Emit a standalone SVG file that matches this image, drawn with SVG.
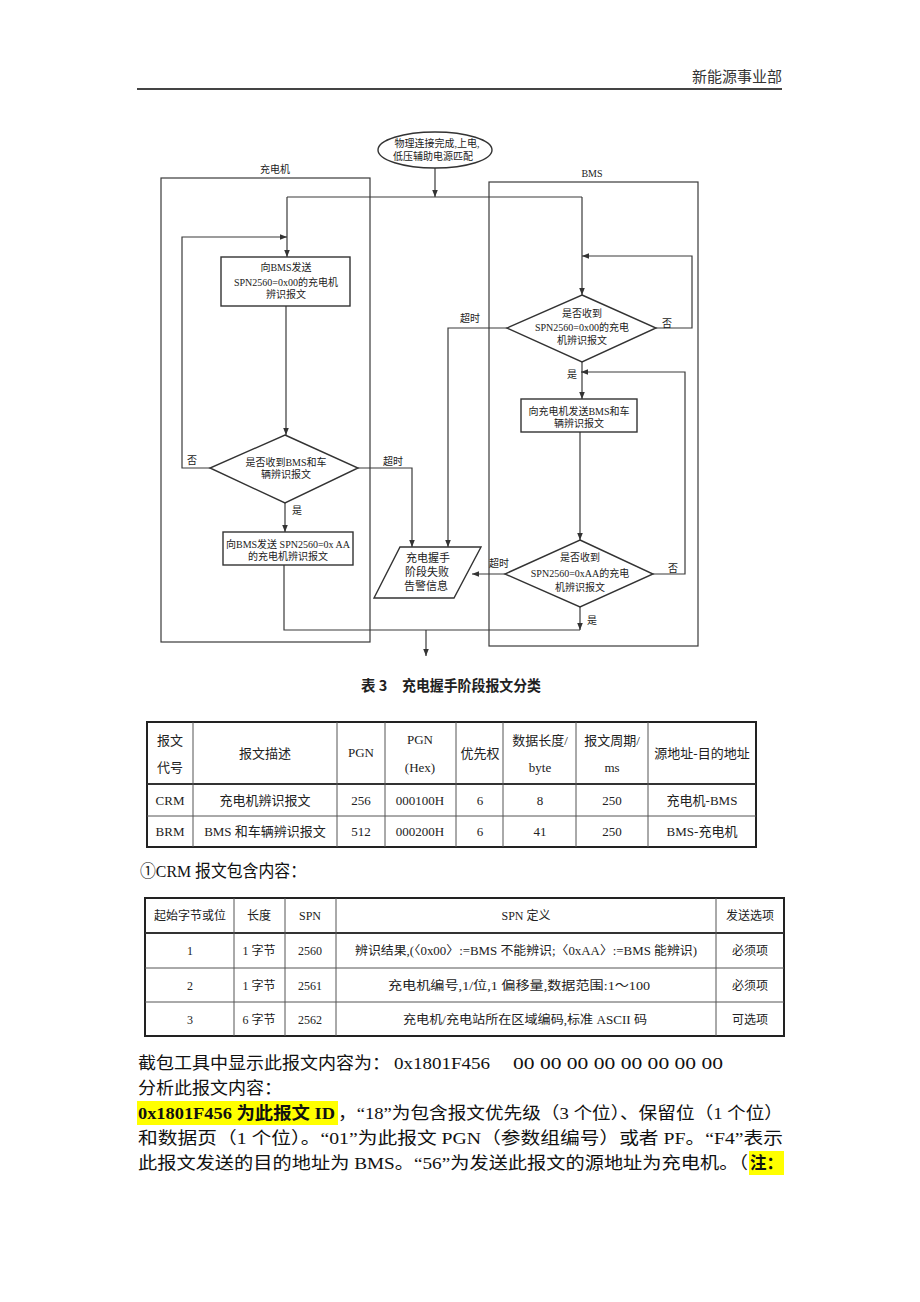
<svg xmlns="http://www.w3.org/2000/svg" width="920" height="1302" viewBox="0 0 920 1302">
<style>
.fl{fill:none;stroke:#3a3a3a;stroke-width:1.2}
.nd{fill:#fff;stroke:#333;stroke-width:1.4}
.ft{font-family:"Liberation Serif","Noto Sans CJK SC",serif;font-size:10px;fill:#222;text-anchor:middle}
.lb{font-family:"Liberation Serif","Noto Sans CJK SC",serif;font-size:10px;fill:#222;text-anchor:middle}
.tb{fill:none;stroke:#222;stroke-width:2}
.tl{stroke:#555;stroke-width:1}
.th{stroke:#333;stroke-width:2}
.tt{font-family:"Liberation Serif","Noto Sans CJK SC",serif;font-size:13px;fill:#222;text-anchor:middle}
.t2{font-family:"Liberation Serif","Noto Sans CJK SC",serif;font-size:12px;fill:#222;text-anchor:middle}
.bd{font-family:"Liberation Serif","Noto Sans CJK SC",serif;font-size:17px;fill:#111}
.cap{font-family:"Noto Sans CJK SC",sans-serif;font-size:14.5px;font-weight:bold;fill:#222}
.hl{fill:#ffff00}
</style>
<defs>
<marker id="arr" viewBox="0 0 10 10" refX="10" refY="5" markerWidth="7" markerHeight="7" orient="auto" markerUnits="userSpaceOnUse"><path d="M0,1 L10,5 L0,9 z" fill="#333"/></marker>
</defs>
<rect width="920" height="1302" fill="#fff"/>

<g id="page-header">
<text x="782" y="82" style="font-family:'Noto Sans CJK SC',sans-serif;font-size:15px;fill:#333" text-anchor="end">新能源事业部</text>
<line x1="137" y1="89" x2="782" y2="89" stroke="#444" stroke-width="2"/>
</g>

<g id="lane-charger">
<rect x="161" y="178" width="209" height="464" class="fl"/>
<text x="275" y="173" class="lb">充电机</text>
</g>
<g id="lane-bms">
<rect x="489" y="182" width="209" height="464" class="fl"/>
<text x="592" y="177" class="lb">BMS</text>
</g>

<g id="connectors">
<path d="M435,168 V197" class="fl" marker-end="url(#arr)"/>
<path d="M287,197 H582" class="fl"/>
<path d="M287,197 V257" class="fl" marker-end="url(#arr)"/>
<path d="M210,468 H182 V237 H287" class="fl" marker-end="url(#arr)"/>
<path d="M286,306 V435" class="fl" marker-end="url(#arr)"/>
<path d="M285,503 V532" class="fl" marker-end="url(#arr)"/>
<path d="M358,468 H412 V547" class="fl" marker-end="url(#arr)"/>
<path d="M284,565 V630 H580" class="fl"/>
<path d="M426,630 V656" class="fl" marker-end="url(#arr)"/>
<path d="M580,607 V630" class="fl" marker-end="url(#arr)"/>
<path d="M582,197 V295" class="fl" marker-end="url(#arr)"/>
<path d="M656,328 H692 V256 H582" class="fl" marker-end="url(#arr)"/>
<path d="M507,328 H448 V547" class="fl" marker-end="url(#arr)"/>
<path d="M582,362 V399" class="fl" marker-end="url(#arr)"/>
<path d="M653,574 H685 V372 H581" class="fl" marker-end="url(#arr)"/>
<path d="M580,432 V540" class="fl" marker-end="url(#arr)"/>
<path d="M505,574 H472" class="fl" marker-end="url(#arr)"/>
<text x="192" y="464" class="lb">否</text>
<text x="297" y="514" class="lb">是</text>
<text x="393" y="465" class="lb">超时</text>
<text x="470" y="322" class="lb">超时</text>
<text x="667" y="327" class="lb">否</text>
<text x="572" y="378" class="lb">是</text>
<text x="499" y="567" class="lb">超时</text>
<text x="673" y="572" class="lb">否</text>
<text x="592" y="624" class="lb">是</text>
</g>

<g id="start">
<ellipse cx="435" cy="150" rx="57" ry="18" class="nd"/>
<text x="437" y="147" class="ft">物理连接完成,上电,</text>
<text x="433" y="160" class="ft">低压辅助电源匹配</text>
</g>

<g id="charger-send-00">
<rect x="221" y="257" width="129" height="49" class="nd"/>
<text x="286" y="271" class="ft">向BMS发送</text>
<text x="286" y="286" class="ft">SPN2560=0x00的充电机</text>
<text x="286" y="298" class="ft">辨识报文</text>
</g>

<g id="charger-recv-brm">
<polygon points="285,435 358,468 285,503 210,468" class="nd"/>
<text x="286" y="466" class="ft">是否收到BMS和车</text>
<text x="286" y="478" class="ft">辆辨识报文</text>
</g>

<g id="charger-send-aa">
<rect x="223" y="532" width="130" height="33" class="nd"/>
<text x="288" y="548" class="ft">向BMS发送 SPN2560=0x AA</text>
<text x="288" y="560" class="ft">的充电机辨识报文</text>
</g>

<g id="alarm">
<polygon points="400,547 481,547 454,598 374,598" class="nd"/>
<text x="428" y="562" class="ft" style="font-size:11px">充电握手</text>
<text x="427" y="576" class="ft" style="font-size:11px">阶段失败</text>
<text x="426" y="590" class="ft" style="font-size:11px">告警信息</text>
</g>

<g id="bms-recv-00">
<polygon points="582,295 656,328 582,362 507,328" class="nd"/>
<text x="582" y="317" class="ft">是否收到</text>
<text x="582" y="331" class="ft">SPN2560=0x00的充电</text>
<text x="582" y="344" class="ft">机辨识报文</text>
</g>

<g id="bms-send-brm">
<rect x="521" y="399" width="116" height="33" class="nd"/>
<text x="579" y="415" class="ft">向充电机发送BMS和车</text>
<text x="579" y="427" class="ft">辆辨识报文</text>
</g>

<g id="bms-recv-aa">
<polygon points="580,540 653,574 580,607 505,574" class="nd"/>
<text x="580" y="561" class="ft">是否收到</text>
<text x="580" y="577" class="ft">SPN2560=0xAA的充电</text>
<text x="580" y="591" class="ft">机辨识报文</text>
</g>

<g id="table3">
<text x="361" y="691" class="cap">表 3</text>
<text x="402" y="691" class="cap" textLength="139" lengthAdjust="spacingAndGlyphs">充电握手阶段报文分类</text>
<rect x="147" y="722" width="609" height="125" class="tb"/>
<line x1="147" y1="784" x2="756" y2="784" class="th"/>
<line x1="147" y1="816" x2="756" y2="816" class="tl"/>
<line x1="193" y1="722" x2="193" y2="847" class="tl"/>
<line x1="337" y1="722" x2="337" y2="847" class="tl"/>
<line x1="385" y1="722" x2="385" y2="847" class="tl"/>
<line x1="456" y1="722" x2="456" y2="847" class="tl"/>
<line x1="503" y1="722" x2="503" y2="847" class="tl"/>
<line x1="576" y1="722" x2="576" y2="847" class="tl"/>
<line x1="648" y1="722" x2="648" y2="847" class="tl"/>
<text x="170" y="745" class="tt">报文</text>
<text x="170" y="772" class="tt">代号</text>
<text x="265" y="758" class="tt">报文描述</text>
<text x="361" y="757" class="tt">PGN</text>
<text x="420" y="744" class="tt">PGN</text>
<text x="420" y="772" class="tt">(Hex)</text>
<text x="480" y="758" class="tt">优先权</text>
<text x="540" y="745" class="tt">数据长度/</text>
<text x="540" y="772" class="tt">byte</text>
<text x="612" y="745" class="tt">报文周期/</text>
<text x="612" y="772" class="tt">ms</text>
<text x="702" y="758" class="tt">源地址-目的地址</text>
<text x="170" y="805" class="tt">CRM</text>
<text x="265" y="805" class="tt">充电机辨识报文</text>
<text x="361" y="805" class="tt">256</text>
<text x="420" y="805" class="tt">000100H</text>
<text x="480" y="805" class="tt">6</text>
<text x="540" y="805" class="tt">8</text>
<text x="612" y="805" class="tt">250</text>
<text x="702" y="805" class="tt">充电机-BMS</text>
<text x="170" y="836" class="tt">BRM</text>
<text x="265" y="836" class="tt">BMS 和车辆辨识报文</text>
<text x="361" y="836" class="tt">512</text>
<text x="420" y="836" class="tt">000200H</text>
<text x="480" y="836" class="tt">6</text>
<text x="540" y="836" class="tt">41</text>
<text x="612" y="836" class="tt">250</text>
<text x="702" y="836" class="tt">BMS-充电机</text>
</g>

<text x="140" y="877" class="bd" textLength="166" lengthAdjust="spacingAndGlyphs">①CRM 报文包含内容：</text>

<g id="crm-table">
<rect x="145" y="898" width="639" height="138" class="tb"/>
<line x1="145" y1="933" x2="784" y2="933" class="th"/>
<line x1="145" y1="968" x2="784" y2="968" class="tl"/>
<line x1="145" y1="1002" x2="784" y2="1002" class="tl"/>
<line x1="234" y1="898" x2="234" y2="1036" class="tl"/>
<line x1="285" y1="898" x2="285" y2="1036" class="tl"/>
<line x1="336" y1="898" x2="336" y2="1036" class="tl"/>
<line x1="716" y1="898" x2="716" y2="1036" class="tl"/>
<text x="190" y="920" class="t2">起始字节或位</text>
<text x="259" y="920" class="t2">长度</text>
<text x="310" y="920" class="t2">SPN</text>
<text x="526" y="920" class="t2">SPN 定义</text>
<text x="750" y="920" class="t2">发送选项</text>
<text x="190" y="955" class="t2">1</text>
<text x="259" y="955" class="t2">1 字节</text>
<text x="310" y="955" class="t2">2560</text>
<text x="526" y="955" class="t2" textLength="342" lengthAdjust="spacingAndGlyphs">辨识结果,(〈0x00〉:=BMS 不能辨识;〈0xAA〉:=BMS 能辨识)</text>
<text x="750" y="955" class="t2">必须项</text>
<text x="190" y="990" class="t2">2</text>
<text x="259" y="990" class="t2">1 字节</text>
<text x="310" y="990" class="t2">2561</text>
<text x="519" y="990" class="t2" textLength="262" lengthAdjust="spacingAndGlyphs">充电机编号,1/位,1 偏移量,数据范围:1～100</text>
<text x="750" y="990" class="t2">必须项</text>
<text x="190" y="1024" class="t2">3</text>
<text x="259" y="1024" class="t2">6 字节</text>
<text x="310" y="1024" class="t2">2562</text>
<text x="525" y="1024" class="t2" textLength="244" lengthAdjust="spacingAndGlyphs">充电机/充电站所在区域编码,标准 ASCII 码</text>
<text x="750" y="1024" class="t2">可选项</text>
</g>

<g id="body-text">
<text x="138" y="1069" class="bd" textLength="252" lengthAdjust="spacingAndGlyphs">截包工具中显示此报文内容为：</text>
<text x="394" y="1069" class="bd" textLength="96" lengthAdjust="spacingAndGlyphs">0x1801F456</text>
<text x="513" y="1069" class="bd" textLength="210" lengthAdjust="spacingAndGlyphs">00 00 00 00 00 00 00 00</text>
<text x="138" y="1094" class="bd" textLength="144" lengthAdjust="spacingAndGlyphs">分析此报文内容：</text>
<rect x="137" y="1101" width="201" height="24" class="hl"/>
<text x="138" y="1119" class="bd" style="font-weight:bold" textLength="197" lengthAdjust="spacingAndGlyphs">0x1801F456 为此报文 ID</text>
<text x="338" y="1119" class="bd" textLength="445" lengthAdjust="spacingAndGlyphs">，“18”为包含报文优先级（3 个位）、保留位（1 个位）</text>
<text x="138" y="1144" class="bd" textLength="645" lengthAdjust="spacingAndGlyphs">和数据页（1 个位）。“01”为此报文 PGN（参数组编号）或者 PF。“F4”表示</text>
<text x="138" y="1169" class="bd" textLength="610" lengthAdjust="spacingAndGlyphs">此报文发送的目的地址为 BMS。“56”为发送此报文的源地址为充电机。（</text>
<rect x="749" y="1151" width="35" height="24" class="hl"/>
<text x="750" y="1169" class="bd" style="font-weight:bold" textLength="33" lengthAdjust="spacingAndGlyphs">注：</text>
</g>
</svg>
